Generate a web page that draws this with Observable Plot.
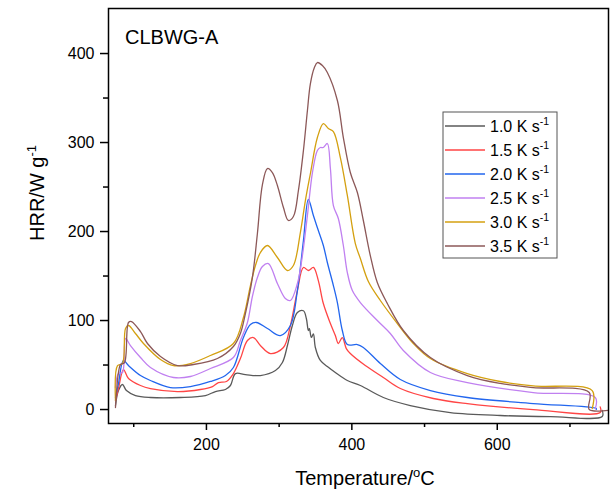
<!DOCTYPE html>
<html>
<head>
<meta charset="utf-8">
<script src="https://cdn.jsdelivr.net/npm/d3@7"></script>
<script src="https://cdn.jsdelivr.net/npm/@observablehq/plot@0.6"></script>
<style>
  html, body { margin: 0; padding: 0; background: #fff; }
  svg { display: block; }
</style>
</head>
<body>
<div id="chart"></div>
<script>
// Series labels and colours
const seriesNames = ["1.0 K s", "1.5 K s", "2.0 K s", "2.5 K s", "3.0 K s", "3.5 K s"];
const seriesColors = ["#5a5a5a", "#ff4545", "#2266ee", "#c080f0", "#d4a010", "#8c5858"];

// Temperature (°C) and HRR (W/g) per heating rate
const t10 = [74.9,79.0,84.5,90.0,102.4,123.0,164.3,198.6,212.4,226.1,233.0,239.9,253.6,274.2,294.9,304.5,311.4,318.2,325.1,333.4,337.5,340.2,341.6,344.3,347.1,349.8,356.7,366.3,377.3,393.8,411.7,443.3,480.4,535.4,604.1,672.9,744.4,744.4];
const h10 = [4.5,21.3,28.1,21.3,15.7,13.5,13.5,15.7,20.2,22.5,27.0,40.4,39.3,38.2,43.8,52.8,71.9,94.4,109,111,102,88.8,91,81,85,69.7,55.1,48.3,41.6,32.6,27.0,13.5,4.5,-3.4,-6.7,-7.9,-7.9,-1];

const t15 = [74.9,79.0,85.9,92.8,109.3,123.0,160.1,191.8,208.3,216.5,227.5,237.1,246.7,256.4,264.6,274.2,288.0,305.9,315.5,325.1,333.4,340.2,347.1,353.9,360.8,370.5,377.3,381.4,386.9,392.4,397.9,418.5,443.3,466.7,512.0,558.8,649.5,741.6,741.6];
const h15 = [10.1,23.6,44.9,34.8,27.0,23.6,20.2,22.5,25.8,30.3,31.5,40.4,57.3,77.5,80.9,71.9,62.9,69.7,94.4,133.7,159.6,156.2,159.6,144.9,119.1,96.6,83.1,74.2,80.9,68.5,62.9,49.4,36.0,23.6,12.4,6.7,0,-3.4,3];

const t20 = [74.9,79.0,85.9,92.8,109.3,123.0,150.5,178.0,205.5,226.1,237.1,250.9,260.5,268.7,283.9,301.7,315.5,325.1,333.4,340.2,347.1,353.9,360.8,366.3,374.6,380.1,386.9,393.8,407.6,415.8,439.2,466.7,508.0,558.8,649.5,736.1,736.1];
const h20 = [13.5,29.2,55.1,49.4,38.2,32.6,24.7,25.8,31.5,38.2,47.2,80.9,95.5,97.8,91.0,83.1,94.4,133.7,189.9,236.0,218.0,201.1,184.3,165.2,139.3,120.2,88.8,73.0,73.0,69.7,51.7,33.7,21.3,13.5,6.7,1.1,0];

const t25 = [74.9,79.0,84.5,88.7,95.5,109.3,123.0,154.7,178.0,205.5,237.1,246.7,256.4,263.2,270.1,277.0,285.2,297.6,308.6,315.5,325.1,332.0,338.9,345.8,352.6,356.7,360.8,366.3,370.5,374.6,381.4,388.3,393.8,400.7,411.7,435.0,452.9,470.8,508.0,558.8,649.5,734.8,734.8];
const h25 = [24.7,40.4,41.6,79.8,71.9,58.4,47.2,36.0,37.1,46.1,58.4,77.5,97.8,127,148.3,160.7,164.0,141.6,124.7,122.5,141.6,173.0,218.0,266.3,291.0,294.4,294.4,298.9,270.8,229.2,214.6,184.3,153.9,133.7,120.2,100.0,85.4,66.3,41.6,30.3,19.1,13.5,1];

const t30 = [74.9,77.7,84.5,88.7,92.8,102.4,113.4,136.8,154.7,178.0,205.5,237.1,250.9,260.5,267.4,274.2,283.9,297.6,311.4,319.6,329.2,336.1,343.0,352.6,360.8,367.7,374.6,384.2,393.8,404.8,411.7,422.7,439.2,462.6,484.6,508.0,558.8,604.1,649.5,730.6,730.6];
const h30 = [10.1,49.4,51.7,91.0,94.4,85.4,74.2,56.2,49.4,51.7,60.7,74.2,103.4,139.3,161.8,176.4,184.3,170.8,156.2,161.8,198.9,234.8,265.2,305.6,321.3,315.7,312.3,283.1,240.5,186.5,169.7,143.8,122.5,96.6,74.2,57.3,40.4,31.5,26.5,21.3,1];

const t35 = [74.9,79.0,81.8,87.3,92.8,96.9,109.3,118.9,136.8,160.1,182.1,215.1,237.1,246.7,253.6,263.2,270.1,277.0,283.9,290.7,297.6,305.9,312.7,319.6,326.5,333.4,338.9,343.0,348.5,352.6,359.5,366.3,380.1,388.3,397.9,407.6,415.8,425.4,435.0,448.8,470.8,508.0,558.8,604.1,649.5,726.5,726.5,760];
const h35 = [2.2,41.6,50.6,52.8,97.8,98.9,87.6,74.2,59.6,49.4,50.6,57.3,70.8,85.4,107.9,148.3,197.8,252.8,270.8,266.3,251.7,227.0,212.4,216.9,246.1,291.0,336.0,366.3,384.3,389.9,386.5,378.7,347.2,305.6,266.3,243.8,212.4,173.0,142.7,119.1,88.8,58.4,38.2,29.3,24.7,19.1,0,0];

// Axis ticks
const xMajor = [200, 400, 600];
const xMinor = [100, 300, 500, 700];
const yMajor = [0, 100, 200, 300, 400];
const yMinor = [50, 150, 250, 350];

const temps = [t10, t15, t20, t25, t30, t35];
const hrrs = [h10, h15, h20, h25, h30, h35];
const rows = [];
seriesNames.forEach((name, i) => {
  temps[i].forEach((t, j) => rows.push({s: name, T: t, H: hrrs[i][j]}));
});

const font = "Arial, 'Liberation Sans', sans-serif";

const chart = Plot.plot({
  width: 610,
  height: 493,
  marginLeft: 108,
  marginRight: 2,
  marginTop: 8,
  marginBottom: 70,
  style: {fontFamily: font, fontSize: "16px", color: "#000", background: "#fff", overflow: "visible"},
  x: {domain: [65.3, 753]},
  y: {domain: [-15.7, 450.6]},
  color: {domain: seriesNames, range: seriesColors},
  marks: [
    Plot.line(rows, {x: "T", y: "H", z: "s", stroke: "s", strokeWidth: 1.3, curve: "catmull-rom", clip: true}),
    Plot.axisX({ticks: xMajor, tickSize: 7, tickPadding: 8, label: null, fontSize: 16, strokeWidth: 1.5}),
    Plot.axisX({ticks: xMinor, tickSize: 4, tickFormat: () => "", label: null, strokeWidth: 1.5}),
    Plot.axisY({ticks: yMajor, tickSize: 8, tickPadding: 6, label: null, fontSize: 16, strokeWidth: 1.5}),
    Plot.axisY({ticks: yMinor, tickSize: 5, tickFormat: () => "", label: null, strokeWidth: 1.5}),
    Plot.frame({stroke: "#000", strokeWidth: 1.5})
  ]
});

document.getElementById("chart").appendChild(chart);

const svg = d3.select(chart);
const fg = svg.append("g").attr("font-family", font).attr("fill", "#000").attr("text-anchor", "start");

// Panel title
fg.append("text").attr("x", 125).attr("y", 44).attr("font-size", 20).attr("text-anchor", "start").text("CLBWG-A");

// X axis title with superscript o
const xt = fg.append("text").attr("x", 365).attr("y", 485).attr("font-size", 20).attr("text-anchor", "middle");
xt.append("tspan").text("Temperature/");
xt.append("tspan").attr("font-size", 13).attr("dy", -8).text("o");
xt.append("tspan").attr("dy", 8).text("C");

// Y axis title with superscript -1
const yt = fg.append("text").attr("transform", "translate(44,193) rotate(-90)").attr("font-size", 20).attr("text-anchor", "middle");
yt.append("tspan").text("HRR/W g");
yt.append("tspan").attr("font-size", 13).attr("dy", -8).text("-1");

// Legend
const lg = svg.append("g").attr("font-family", font).attr("text-anchor", "start");
lg.append("rect").attr("x", 443).attr("y", 112).attr("width", 114).attr("height", 146)
  .attr("fill", "#fff").attr("stroke", "#555").attr("stroke-width", 1);
seriesNames.forEach((name, i) => {
  const cy = 126 + i * 24;
  lg.append("line").attr("x1", 445).attr("x2", 485).attr("y1", cy).attr("y2", cy)
    .attr("stroke", seriesColors[i]).attr("stroke-width", 1.5);
  const tx = lg.append("text").attr("x", 490).attr("y", cy + 6).attr("font-size", 16)
    .attr("fill", "#000").attr("text-anchor", "start");
  tx.append("tspan").text(name);
  tx.append("tspan").attr("font-size", 10.5).attr("dy", -7).text("-1");
});
</script>
</body>
</html>
